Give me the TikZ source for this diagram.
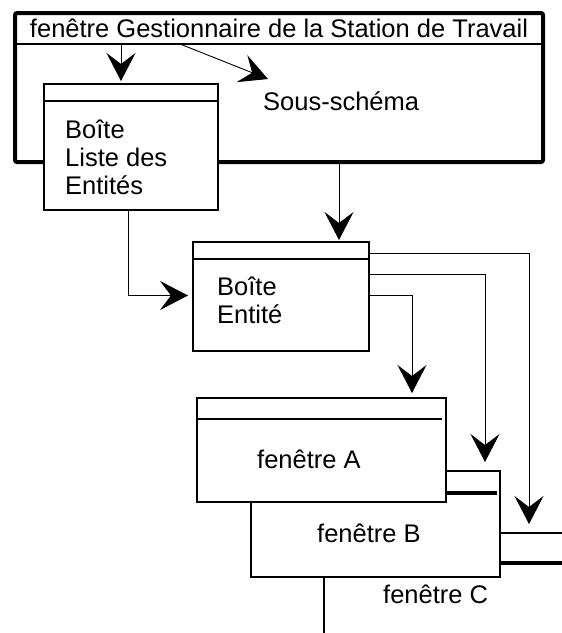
\documentclass[tikz,border=0pt]{standalone}
\usepackage{fontspec}
\setmainfont{Liberation Sans}
\usetikzlibrary{arrows.meta}
\begin{document}
\begin{tikzpicture}[x=1pt, y=-1pt,
  box/.style={draw, fill=white, anchor=north west, inner sep=0pt, outer sep=0pt, line width=2pt},
  lbl/.style={anchor=base west, inner sep=0pt, align=left, font=\fontsize{25.5}{28}\selectfont},
  link/.style={line width=0.9pt, -{Stealth[length=28pt, width=29pt, inset=11pt]}}]
\useasboundingbox (0,0) rectangle (562,633);
\clip (0,0) rectangle (562,633);
\node[box, line width=2.6pt, minimum width=300pt, minimum height=150pt] (fenC) at (324,533) {};
\draw[line width=3.5pt] ([yshift=-30pt]fenC.north west) -- ([yshift=-30pt]fenC.north east);
\node[box, line width=2.6pt, minimum width=249pt, minimum height=106pt] (fenB) at (251,471) {};
\draw[line width=3.5pt] ([yshift=-22pt]fenB.north west) -- ([xshift=-3pt,yshift=-22pt]fenB.north east);
\node[box, minimum width=249pt, minimum height=104pt] (fenA) at (197,398) {};
\draw[line width=2pt] ([yshift=-21pt]fenA.north west) -- ([xshift=-4pt,yshift=-21pt]fenA.north east);
\node[lbl] (txtA) at (257,468) {fenêtre A};
\node[lbl] (txtB) at (317,542) {fenêtre B};
\node[lbl] (txtC) at (383,603) {fenêtre C};
\node[box, line width=4pt, rounded corners=2pt, minimum width=528pt, minimum height=149pt] (gest) at (15,13) {};
\coordinate (gsep) at ([yshift=-31pt]gest.north west);
\draw[line width=1.6pt] (gsep) -- (gsep -| gest.east);
\node[lbl, anchor=base] (gtitle) at (279,37) {fenêtre Gestionnaire de la Station de Travail};
\node[lbl] (sous) at (263,110) {Sous-schéma};
\node[box, minimum width=174pt, minimum height=126pt] (liste) at (44,84) {};
\draw[line width=2pt] ([yshift=-17pt]liste.north west) -- ([yshift=-17pt]liste.north east);
\node[lbl] (txtliste) at (65,194) {Boîte\\Liste des\\Entités};
\node[box, minimum width=176pt, minimum height=109pt] (entite) at (193,242) {};
\draw[line width=2pt] ([yshift=-17pt]entite.north west) -- ([yshift=-17pt]entite.north east);
\node[lbl] (txtent) at (217,323) {Boîte\\Entité};
\draw[link] ([xshift=-10pt]liste.north |- gsep) -- ([xshift=-10pt,yshift=3pt]liste.north);
\draw[link] ([xshift=165pt]gsep) -- ([xshift=5pt,yshift=31pt]sous.base west);
\draw[link] ([xshift=58pt]entite.north |- gest.south) -- ([xshift=58pt,yshift=2pt]entite.north);
\draw[link] ([xshift=-3pt]liste.south) |- ([xshift=-5pt,yshift=1pt]entite.west);
\draw[link] ([yshift=-11pt]entite.north east) -| ([xshift=205pt,yshift=9pt]fenC.north west);
\draw[link] ([yshift=-32pt]entite.north east) -| ([xshift=-15pt,yshift=9pt]fenB.north east);
\draw[link] ([yshift=-53pt]entite.north east) -| ([xshift=-34pt,yshift=5pt]fenA.north east);
\end{tikzpicture}
\end{document}
